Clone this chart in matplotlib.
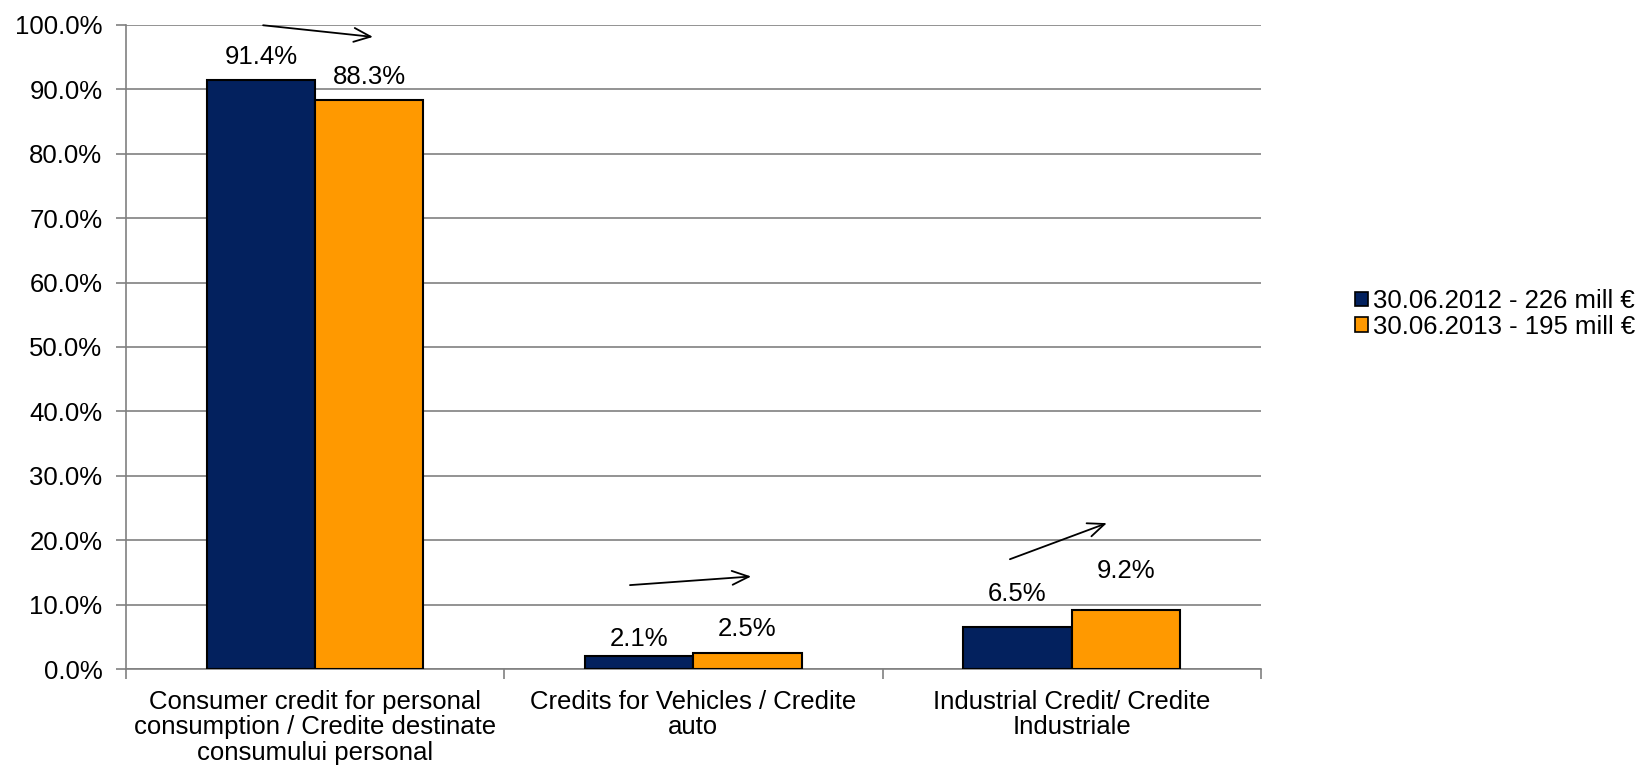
import matplotlib.pyplot as plt
import numpy as np

plt.rcParams['font.family'] = ['Liberation Sans', 'DejaVu Sans']

categories = ['Consumer credit for personal\nconsumption / Credite destinate\nconsumului personal',
              'Credits for Vehicles / Credite\nauto',
              'Industrial Credit/ Credite\nIndustriale']
series_names = ['30.06.2012 - 226 mill €', '30.06.2013 - 195 mill €']
vals_2012 = [91.4, 2.1, 6.5]
vals_2013 = [88.3, 2.5, 9.2]
colors = ['#03215E', '#FF9900']

# label offsets above bar tops (points), moved by hand in the original
off_2012 = [17, 12, 24]
off_2013 = [17, 17, 28]

# trend arrows (start, end) in data coords
arrows = [((-0.145, 100.0), (0.16, 98.1)),
          ((0.825, 13.0), (1.16, 14.4)),
          ((1.83, 16.9), (2.10, 22.8))]

FS = 18.5

fig = plt.figure(figsize=(16.48, 7.73), dpi=100)
ax = fig.add_axes([0.0765, 0.1345, 0.6885, 0.8332])

x = np.arange(len(categories))
w = 0.286
b1 = ax.bar(x - w/2, vals_2012, w, color=colors[0], edgecolor='black', linewidth=1.5,
            label=series_names[0], zorder=3)
b2 = ax.bar(x + w/2, vals_2013, w, color=colors[1], edgecolor='black', linewidth=1.5,
            label=series_names[1], zorder=3)

for bars, vals, offs in [(b1, vals_2012, off_2012), (b2, vals_2013, off_2013)]:
    for r, v, o in zip(bars, vals, offs):
        ax.annotate('%.1f%%' % v, (r.get_x() + r.get_width()/2, v), xytext=(0, o),
                    textcoords='offset points', ha='center', va='center', fontsize=FS)

for (s, e) in arrows:
    ax.annotate('', xy=e, xytext=s,
                arrowprops=dict(arrowstyle='->,head_length=1.2,head_width=0.5', color='black', lw=1.3),
                annotation_clip=False, zorder=5)

ax.set_xlim(-0.5, 2.5)
ax.set_ylim(0, 100)
ax.set_yticks(np.arange(0, 101, 10))
ax.set_yticklabels(['%.1f%%' % t for t in np.arange(0, 101, 10)], fontsize=FS)
ax.yaxis.grid(True, color='#808080', linewidth=1.2, zorder=0)
ax.set_axisbelow(True)

ax.set_xticks(x)
ax.set_xticklabels(categories, fontsize=FS, linespacing=1.08)
ax.tick_params(axis='x', length=0, pad=15)
ax.set_xticks([-0.5, 0.5, 1.5, 2.5], minor=True)
ax.tick_params(axis='x', which='minor', length=7, color='#808080', width=1.2)
ax.tick_params(axis='y', length=7, color='#808080', width=1.2, pad=10)

for s in ['top', 'right']:
    ax.spines[s].set_visible(False)
for s in ['left', 'bottom']:
    ax.spines[s].set_color('#808080')
    ax.spines[s].set_linewidth(1.2)

leg = fig.legend(handles=[b1, b2], loc='center left', bbox_to_anchor=(0.822, 0.594),
                 frameon=False, fontsize=FS, handlelength=0.5, handleheight=0.5,
                 handletextpad=0.22, labelspacing=0.06, borderpad=0, borderaxespad=0)
for h in leg.legend_handles:
    h.set_linewidth(1.2)

fig.savefig('out.png', dpi=100)
